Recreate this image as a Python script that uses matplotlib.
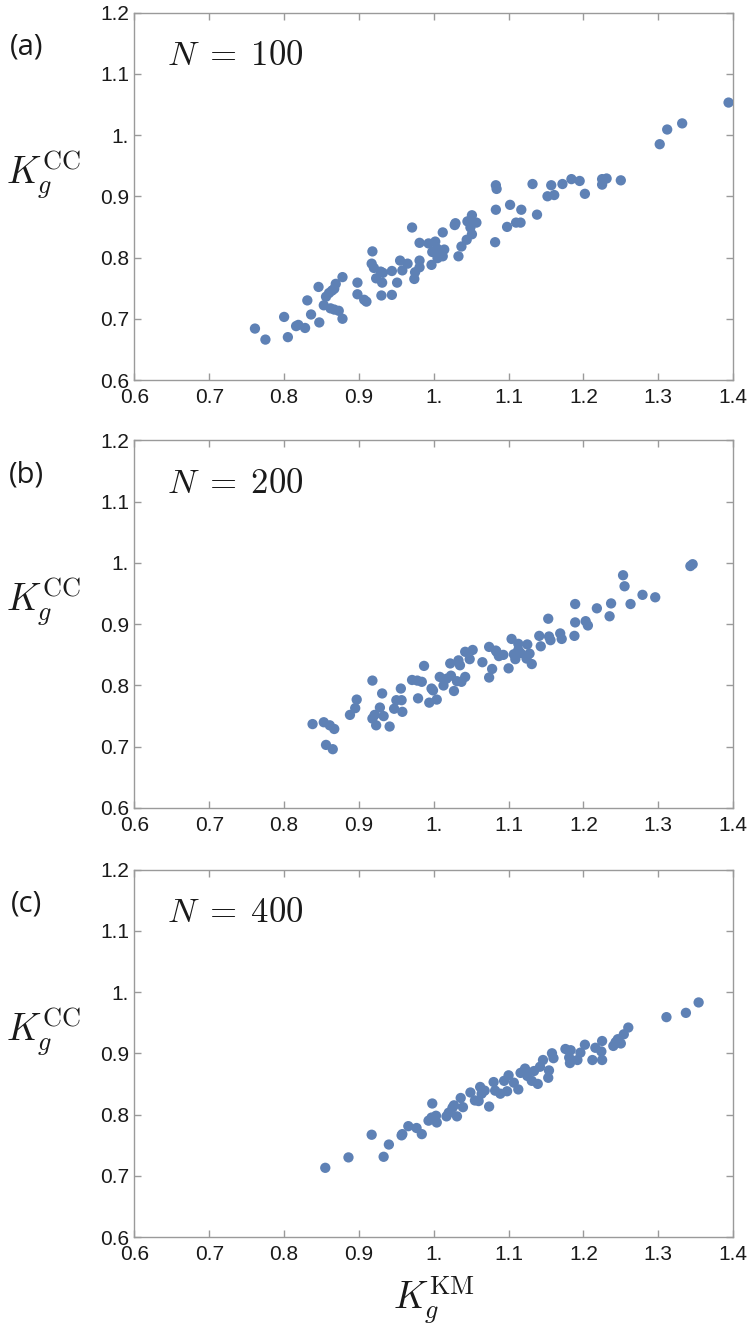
import matplotlib.pyplot as plt

plt.rcParams['mathtext.fontset'] = 'cm'

# данные: панель (a), N = 100
xa = [0.761, 0.775, 0.800, 0.805, 0.816, 0.819, 0.828, 0.831, 0.836, 0.846,
      0.847, 0.853, 0.856, 0.860, 0.864, 0.867, 0.869, 0.862, 0.867, 0.873,
      0.878, 0.878, 0.898, 0.898, 0.907, 0.910, 0.918, 0.917, 0.920, 0.923,
      0.929, 0.932, 0.931, 0.930, 0.944, 0.944, 0.951, 0.955, 0.958, 0.965,
      0.971, 0.974, 0.975, 0.981, 0.981, 0.981, 0.993, 0.997, 0.998, 1.002,
      1.004, 1.008, 1.005, 1.012, 1.014, 1.012, 1.028, 1.029, 1.033, 1.037,
      1.044, 1.045, 1.051, 1.051, 1.049, 1.057, 1.083, 1.084, 1.083, 1.082,
      1.098, 1.102, 1.110, 1.116, 1.117, 1.132, 1.138, 1.152, 1.157, 1.161,
      1.172, 1.184, 1.195, 1.202, 1.225, 1.225, 1.231, 1.250, 1.302, 1.312,
      1.332, 1.394]
ya = [0.684, 0.666, 0.703, 0.670, 0.688, 0.690, 0.685, 0.730, 0.707, 0.752,
      0.694, 0.722, 0.736, 0.742, 0.746, 0.749, 0.757, 0.717, 0.715, 0.713,
      0.700, 0.768, 0.759, 0.740, 0.731, 0.728, 0.810, 0.790, 0.783, 0.766,
      0.777, 0.775, 0.759, 0.738, 0.778, 0.739, 0.759, 0.795, 0.779, 0.790,
      0.849, 0.765, 0.776, 0.784, 0.795, 0.824, 0.823, 0.788, 0.809, 0.826,
      0.815, 0.804, 0.799, 0.802, 0.813, 0.841, 0.853, 0.856, 0.802, 0.818,
      0.829, 0.859, 0.869, 0.838, 0.849, 0.857, 0.918, 0.912, 0.878, 0.825,
      0.850, 0.886, 0.857, 0.857, 0.878, 0.920, 0.870, 0.900, 0.918, 0.902,
      0.920, 0.928, 0.925, 0.904, 0.928, 0.919, 0.929, 0.926, 0.985, 1.009,
      1.019, 1.053]

# панель (b), N = 200
xb = [0.838, 0.853, 0.861, 0.867, 0.856, 0.865, 0.888, 0.895, 0.897, 0.918,
      0.918, 0.923, 0.921, 0.928, 0.933, 0.931, 0.941, 0.947, 0.950, 0.956,
      0.957, 0.958, 0.971, 0.979, 0.978, 0.984, 0.987, 0.994, 0.997, 0.999,
      1.004, 1.008, 1.013, 1.017, 1.022, 1.023, 1.027, 1.031, 1.033, 1.035,
      1.037, 1.042, 1.042, 1.048, 1.052, 1.065, 1.074, 1.074, 1.078, 1.084,
      1.083, 1.087, 1.093, 1.100, 1.104, 1.107, 1.109, 1.113, 1.113, 1.116,
      1.125, 1.124, 1.128, 1.131, 1.141, 1.143, 1.153, 1.154, 1.156, 1.169,
      1.171, 1.188, 1.189, 1.189, 1.203, 1.206, 1.218, 1.235, 1.237, 1.253,
      1.255, 1.263, 1.279, 1.296, 1.343, 1.346]
yb = [0.737, 0.740, 0.735, 0.729, 0.703, 0.696, 0.752, 0.763, 0.777, 0.808,
      0.746, 0.735, 0.752, 0.764, 0.750, 0.787, 0.733, 0.762, 0.776, 0.795,
      0.776, 0.757, 0.809, 0.779, 0.808, 0.806, 0.832, 0.772, 0.795, 0.792,
      0.777, 0.814, 0.800, 0.811, 0.836, 0.816, 0.791, 0.807, 0.841, 0.833,
      0.806, 0.814, 0.855, 0.843, 0.858, 0.838, 0.863, 0.813, 0.827, 0.855,
      0.857, 0.848, 0.850, 0.828, 0.876, 0.851, 0.843, 0.868, 0.858, 0.853,
      0.867, 0.844, 0.852, 0.835, 0.881, 0.864, 0.909, 0.880, 0.874, 0.885,
      0.876, 0.881, 0.903, 0.933, 0.905, 0.898, 0.926, 0.913, 0.934, 0.980,
      0.962, 0.933, 0.948, 0.944, 0.995, 0.998]

# панель (c), N = 400
xc = [0.855, 0.886, 0.933, 0.917, 0.940, 0.957, 0.958, 0.966, 0.977, 0.984,
      0.993, 0.998, 0.997, 1.003, 1.004, 1.017, 1.020, 1.025, 1.027, 1.031,
      1.036, 1.039, 1.049, 1.055, 1.060, 1.062, 1.064, 1.068, 1.074, 1.080,
      1.082, 1.089, 1.094, 1.100, 1.098, 1.107, 1.113, 1.116, 1.122, 1.125,
      1.131, 1.134, 1.139, 1.142, 1.146, 1.154, 1.153, 1.158, 1.160, 1.176,
      1.183, 1.181, 1.182, 1.192, 1.196, 1.202, 1.212, 1.216, 1.224, 1.225,
      1.225, 1.240, 1.243, 1.246, 1.250, 1.254, 1.260, 1.311, 1.337, 1.354]
yc = [0.713, 0.730, 0.731, 0.767, 0.751, 0.766, 0.768, 0.781, 0.778, 0.768,
      0.790, 0.818, 0.795, 0.798, 0.787, 0.797, 0.803, 0.811, 0.815, 0.797,
      0.827, 0.812, 0.836, 0.823, 0.822, 0.845, 0.834, 0.839, 0.813, 0.853,
      0.839, 0.834, 0.855, 0.864, 0.838, 0.852, 0.841, 0.868, 0.875, 0.863,
      0.855, 0.871, 0.850, 0.878, 0.889, 0.872, 0.860, 0.900, 0.892, 0.907,
      0.905, 0.893, 0.884, 0.889, 0.901, 0.914, 0.889, 0.909, 0.903, 0.920,
      0.889, 0.912, 0.918, 0.923, 0.916, 0.931, 0.942, 0.959, 0.966, 0.983]

panels = ['(a)', '(b)', '(c)']
sizes = ['100', '200', '400']
ticks = [0.6, 0.7, 0.8, 0.9, 1.0, 1.1, 1.2, 1.3, 1.4]
tick_labels = ['0.6', '0.7', '0.8', '0.9', '1.', '1.1', '1.2', '1.3', '1.4']

color = '#5E81B5'
spine_col = '#9a9a9a'
tick_font = ['Liberation Sans', 'DejaVu Sans']

fig = plt.figure(figsize=(7.48, 13.32), dpi=100)

bottoms = [0.7147, 0.3934, 0.0713]
data = [(xa, ya), (xb, yb), (xc, yc)]

for i in range(3):
    ax = fig.add_axes([0.1798, bottoms[i], 0.8002, 0.2759])
    x, y = data[i]
    ax.scatter(x, y, s=55, color=color, edgecolors='none', zorder=3)
    ax.set_xlim(0.6, 1.4)
    ax.set_ylim(0.6, 1.2)
    ax.set_xticks(ticks)
    ax.set_xticklabels(tick_labels, family=tick_font, fontsize=15)
    ax.set_yticks(ticks[:7])
    ax.set_yticklabels(tick_labels[:7], family=tick_font, fontsize=15)
    ax.tick_params(direction='in', length=5, width=1, color=spine_col,
                   top=True, right=True, labelcolor='#1a1a1a', pad=4)
    ax.tick_params(axis='x', pad=6)
    for sp in ax.spines.values():
        sp.set_color(spine_col)
        sp.set_linewidth(1)

    ax.text(-0.152, 0.56, r'$K_g^{\mathrm{CC}}$', transform=ax.transAxes,
            fontsize=27, ha='center', va='center', color='#1a1a1a')
    ax.text(-0.18, 0.905, panels[i], transform=ax.transAxes,
            fontsize=21, family=['Open Sans', 'DejaVu Sans'],
            ha='center', va='center', color='#1a1a1a')
    ax.text(0.055, 0.885, r'$N \;=\; ' + sizes[i] + '$', transform=ax.transAxes,
            fontsize=25, ha='left', va='center', color='#1a1a1a')

fig.text(0.58, 0.024, r'$K_g^{\mathrm{KM}}$', fontsize=27,
         ha='center', va='center', color='#1a1a1a')

plt.savefig('out.png', dpi=100)
